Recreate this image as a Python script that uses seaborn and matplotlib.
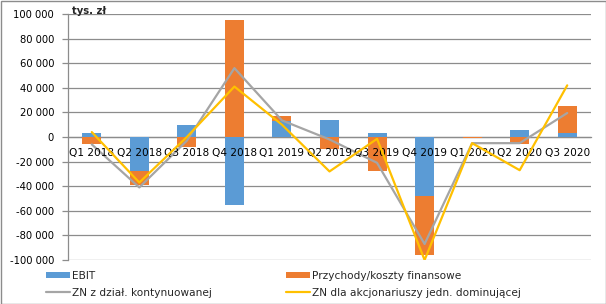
import numpy as np
import pandas as pd
import matplotlib
matplotlib.use("Agg")
import matplotlib.pyplot as plt
import matplotlib.ticker as mticker
from matplotlib.patches import Rectangle, Patch
from matplotlib.lines import Line2D
import seaborn as sns

categories = ['Q1 2018', 'Q2 2018', 'Q3 2018', 'Q4 2018', 'Q1 2019', 'Q2 2019',
              'Q3 2019', 'Q4 2019', 'Q1 2020', 'Q2 2020', 'Q3 2020']
ebit = [3000, -28000, 10000, -55000, 13000, 14000, 3000, -48000, 0, 6000, 3300]
fin = [-6000, -11000, -8000, 95000, 4000, -10000, -28000, -48000, -1200, -5700, 22000]
zn_cont = [-6000, -41000, -3000, 56000, 13500, -2000, -21000, -87000, -5000, -5000, 19500]
zn_dom = [4000, -37000, 0, 41000, 10000, -28000, -1500, -100000, -5000, -27000, 42000]

series_names = ['EBIT', 'Przychody/koszty finansowe',
                'ZN z dział. kontynuowanej', 'ZN dla akcjonariuszy jedn. dominującej']
colors = ['#5B9BD5', '#ED7D31', '#A5A5A5', '#FFC000']
y_ticks = list(range(-100000, 100001, 20000))

sns.set_style("white")
plt.rcParams['font.family'] = ['DejaVu Sans']

df = pd.DataFrame({'cat': categories, 'ebit': ebit, 'fin': fin,
                   'zn_cont': zn_cont, 'zn_dom': zn_dom})
# Excel-style stacking: same-sign values stack, opposite sign start from 0
fin_bottom = [e if (e * f > 0) else 0 for e, f in zip(ebit, fin)]

fig = plt.figure(figsize=(6.06, 3.04), dpi=100)
ax = fig.add_axes([68 / 606, 1 - 260 / 304, (591 - 68) / 606, (260 - 14) / 304])

sns.barplot(data=df, x='cat', y='ebit', color=colors[0], width=0.4,
            saturation=1, ax=ax, zorder=2, linewidth=0, order=categories)
sns.barplot(data=df, x='cat', y='fin', color=colors[1], width=0.4,
            saturation=1, ax=ax, zorder=2, linewidth=0, order=categories,
            bottom=fin_bottom)

xpos = np.arange(len(categories))
sns.lineplot(x=xpos, y=zn_cont, color=colors[2], lw=1.6, ax=ax, zorder=3, sort=False)
sns.lineplot(x=xpos, y=zn_dom, color=colors[3], lw=1.6, ax=ax, zorder=4, sort=False)

ax.set_xlim(-0.5, len(categories) - 0.5)
ax.set_ylim(-100000, 100000)
ax.set_yticks(y_ticks)
ax.yaxis.set_major_formatter(mticker.FuncFormatter(
    lambda v, p: ('-' if v < 0 else '') + f"{abs(int(v)):,}".replace(',', ' ')))
ax.grid(axis='y', color='#8C8C8C', lw=0.9, zorder=0)
ax.grid(axis='x', visible=False)
ax.set_axisbelow(True)
ax.set_xlabel('')
ax.set_ylabel('')

for s in ['top', 'right']:
    ax.spines[s].set_visible(False)
ax.spines['left'].set_color('#8C8C8C')
ax.spines['left'].set_linewidth(0.9)
ax.spines['bottom'].set_position(('data', 0))
ax.spines['bottom'].set_color('#8C8C8C')
ax.spines['bottom'].set_linewidth(0.9)
ax.spines['bottom'].set_zorder(1)

ax.set_xticks(xpos)
ax.set_xticklabels(categories)
ax.set_xticks(np.arange(-0.5, len(categories)), minor=True)
ax.tick_params(axis='x', which='major', length=0, pad=8, labelsize=7.6, colors='black')
ax.tick_params(axis='x', which='minor', length=4, width=0.9, color='#8C8C8C', direction='out')
ax.tick_params(axis='y', length=4, width=0.9, color='#8C8C8C', pad=6, labelsize=7.2,
               labelcolor='black', left=True)
ax.xaxis.set_zorder(3.5)

ax.annotate('tys. zł', xy=(0, 1), xycoords='axes fraction', xytext=(3, 2),
            textcoords='offset points', ha='left', va='center', fontsize=7.2,
            fontweight='bold')

h1 = [Patch(facecolor=colors[0], edgecolor='none'),
      Line2D([], [], color=colors[2], lw=1.6)]
h2 = [Patch(facecolor=colors[1], edgecolor='none'),
      Line2D([], [], color=colors[3], lw=1.6)]
common = dict(frameon=False, fontsize=7.6, handlelength=2.3, handleheight=0.55,
              handletextpad=0.2, labelspacing=0.65, borderpad=0, borderaxespad=0,
              loc='upper left')
leg1 = fig.legend(h1, [series_names[0], series_names[2]],
                  bbox_to_anchor=(46 / 606, 1 - 271 / 304), **common)
leg2 = fig.legend(h2, [series_names[1], series_names[3]],
                  bbox_to_anchor=(286 / 606, 1 - 271 / 304), **common)

fig.patches.append(Rectangle((0.5 / 606, 0.5 / 304), 605 / 606, 303 / 304,
                             transform=fig.transFigure, fill=False,
                             edgecolor='#8C8C8C', lw=1))

fig.savefig('out.png', dpi=100)
